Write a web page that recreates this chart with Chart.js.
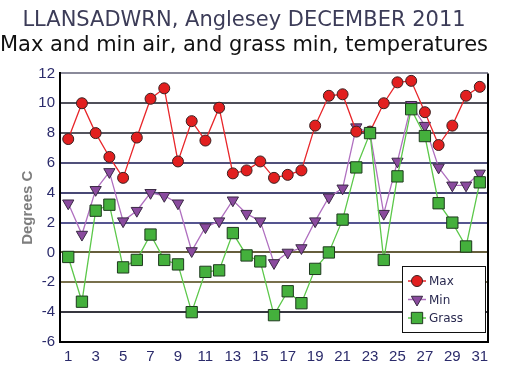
<!DOCTYPE html>
<html>
<head>
<meta charset="utf-8">
<script src="https://cdn.jsdelivr.net/npm/chart.js@4/dist/chart.umd.min.js"></script>
<style>
  html, body { margin: 0; padding: 0; background: #fff; }
  #wrap { width: 509px; height: 376px; }
</style>
</head>
<body>
<div id="wrap"><canvas id="myChart" width="509" height="376"></canvas></div>
<script>
'use strict';

let days = [];
for (let d = 1; d <= 31; d++) days.push(d);

let maxTemps = [7.6, 10.0, 8.0, 6.4, 5.0, 7.7, 10.3, 11.0, 6.1, 8.8,
    7.5, 9.7, 5.3, 5.5, 6.1, 5.0, 5.2, 5.5, 8.5, 10.5,
    10.6, 8.1, 8.1, 10.0, 11.4, 11.5, 9.4, 7.2, 8.5, 10.5, 11.1];
let minTemps = [3.3, 1.2, 4.2, 5.4, 2.1, 2.8, 4.0, 3.8, 3.3, 0.1,
    1.7, 2.1, 3.5, 2.6, 2.1, -0.7, 0.0, 0.3, 2.1, 3.7,
    4.3, 8.4, 8.0, 2.6, 6.1, 9.9, 8.5, 5.7, 4.5, 4.5, 5.3];
let grassTemps = [-0.3, -3.3, 2.8, 3.2, -1.0, -0.5, 1.2, -0.5, -0.8, -4.0,
    -1.3, -1.2, 1.3, -0.2, -0.6, -4.2, -2.6, -3.4, -1.1, 0.0,
    2.2, 5.7, 8.0, -0.5, 5.1, 9.6, 7.8, 3.3, 2.0, 0.4, 4.7];
let xTicks = [1, 3, 5, 7, 9, 11, 13, 15, 17, 19, 21, 23, 25, 27, 29, 31];

function pairs(values) {
    return values.map(function (v, i) { return { x: days[i], y: v }; });
}

let tickColor = '#2b2b6b';
let gridColors = {
    '12': '#8a8a9a', '10': '#50505a', '8': '#55555f', '6': '#50507a',
    '4': '#484875', '2': '#555590', '0': '#665e3c', '-2': '#78704c',
    '-4': '#36363f', '-6': '#000000'
};

// legend drawn inside the plot, bottom right
const boxLegend = {
    id: 'boxLegend',
    afterDatasetsDraw(chart) {
        const ctx = chart.ctx;
        const x0 = 402, y0 = 266, w = 83, h = 66;
        ctx.save();
        ctx.fillStyle = '#fff';
        ctx.fillRect(x0, y0, w, h);
        ctx.strokeStyle = '#111';
        ctx.lineWidth = 1;
        ctx.strokeRect(x0 + 0.5, y0 + 0.5, w, h);
        ctx.font = '12px "DejaVu Sans"';
        ctx.textBaseline = 'middle';
        chart.data.datasets.forEach(function (ds, i) {
            const cy = y0 + 15 + i * 18.5;
            const cx = x0 + 15;
            ctx.strokeStyle = ds.borderColor;
            ctx.lineWidth = 1.5;
            ctx.beginPath();
            ctx.moveTo(cx - 9, cy);
            ctx.lineTo(cx + 9, cy);
            ctx.stroke();
            ctx.fillStyle = ds.pointBackgroundColor;
            ctx.strokeStyle = ds.pointBorderColor;
            ctx.lineWidth = 1;
            Chart.helpers.drawPoint(ctx, {
                pointStyle: ds.pointStyle,
                rotation: ds.pointRotation || 0,
                radius: ds.pointRadius,
                borderWidth: 1
            }, cx, cy);
            ctx.fillStyle = '#2a2a50';
            ctx.fillText(ds.label, x0 + 27, cy + 1);
        });
        ctx.restore();
    }
};

// right edge of the plot frame
const frame = {
    id: 'frame',
    beforeDatasetsDraw(chart) {
        const a = chart.chartArea;
        const ctx = chart.ctx;
        ctx.save();
        ctx.strokeStyle = '#000';
        ctx.lineWidth = 2;
        ctx.beginPath();
        ctx.moveTo(a.right, a.top);
        ctx.lineTo(a.right, a.bottom);
        ctx.stroke();
        ctx.restore();
    }
};

const data = {
    datasets: [{
        label: 'Max',
        data: pairs(maxTemps),
        borderColor: '#e8262a',
        borderWidth: 1.3,
        pointStyle: 'circle',
        pointRadius: 5.5,
        pointBackgroundColor: '#e21f1f',
        pointBorderColor: '#3a2020',
        pointBorderWidth: 1,
        order: 1
    }, {
        label: 'Min',
        data: pairs(minTemps),
        borderColor: '#b070c0',
        borderWidth: 1.3,
        pointStyle: 'triangle',
        pointRotation: 180,
        pointRadius: 6.5,
        pointBackgroundColor: '#8a4a9e',
        pointBorderColor: '#3a2a44',
        pointBorderWidth: 1,
        order: 2
    }, {
        label: 'Grass',
        data: pairs(grassTemps),
        borderColor: '#5cc84a',
        borderWidth: 1.3,
        pointStyle: 'rect',
        pointRadius: 8,
        pointBackgroundColor: '#44b03c',
        pointBorderColor: '#1e3a1e',
        pointBorderWidth: 1,
        order: 0
    }]
};

const config = {
    type: 'line',
    data,
    plugins: [frame, boxLegend],
    options: {
        responsive: false,
        animation: false,
        layout: { padding: { left: 0, right: 21, top: 0, bottom: 0 } },
        plugins: {
            legend: { display: false },
            tooltip: { enabled: false },
            title: {
                display: true,
                text: 'LLANSADWRN, Anglesey DECEMBER 2011',
                color: '#3c3c58',
                font: { family: 'DejaVu Sans', size: 21, weight: 'normal' },
                padding: { top: 8, bottom: 0 }
            },
            subtitle: {
                display: true,
                text: 'Max and min air, and grass min, temperatures',
                color: '#111',
                font: { family: 'DejaVu Sans', size: 21, weight: 'normal' },
                padding: { top: 0, bottom: 15 }
            }
        },
        scales: {
            x: {
                type: 'linear',
                min: 0.4,
                max: 31.6,
                afterBuildTicks: function (axis) {
                    axis.ticks = xTicks.map(function (v) { return { value: v }; });
                },
                afterFit: function (axis) { axis.height = 34; },
                grid: { display: false, drawTicks: false },
                border: { display: true, color: '#000', width: 2 },
                ticks: {
                    color: tickColor,
                    font: { family: 'Liberation Sans', size: 15 },
                    padding: 6,
                    maxRotation: 0,
                    autoSkip: false
                }
            },
            y: {
                min: -6,
                max: 12,
                afterFit: function (axis) { axis.width = 60; },
                ticks: {
                    stepSize: 2,
                    color: tickColor,
                    font: { family: 'Liberation Sans', size: 15 },
                    padding: 5
                },
                grid: {
                    drawTicks: false,
                    lineWidth: 2,
                    color: function (c) { return gridColors[String(c.tick.value)] || '#555'; }
                },
                border: { display: true, color: '#000', width: 2 },
                title: {
                    display: true,
                    text: 'Degrees C',
                    color: '#7e7e7e',
                    font: { family: 'Liberation Sans', size: 15, weight: 'bold' },
                    padding: { top: 19, bottom: 0 }
                }
            }
        }
    }
};

var myChart = new Chart(document.getElementById('myChart'), config);
</script>
</body>
</html>
